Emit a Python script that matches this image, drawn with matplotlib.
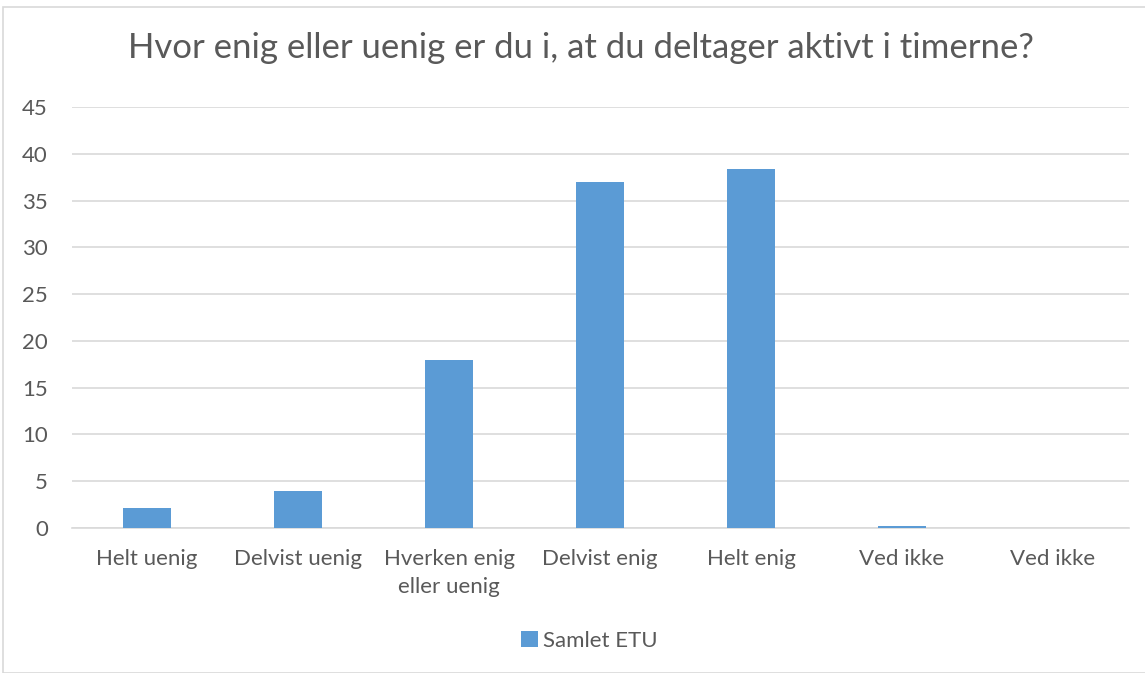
import matplotlib
matplotlib.use("Agg")
import matplotlib.pyplot as plt
from matplotlib.patches import Rectangle
import numpy as np

categories = ["Helt uenig", "Delvist uenig", "Hverken enig\neller uenig", "Delvist enig",
              "Helt enig", "Ved ikke", "Ved ikke"]
values = [2.1, 4.0, 18.0, 37.0, 38.4, 0.2, 0.0]
series_name = "Samlet ETU"
y_ticks = list(range(0, 50, 5))

BAR_COLOR = "#5b9bd5"
TEXT_COLOR = "#595959"
GRID_COLOR = "#d9d9d9"

plt.rcParams["font.family"] = ["Lato", "DejaVu Sans"]

fig = plt.figure(figsize=(11.45, 6.73), dpi=100)
ax = fig.add_axes([71.5 / 1145, 1 - 528 / 673, (1128.5 - 71.5) / 1145, (528 - 107) / 673])

# chart border
fig.patches.append(Rectangle((3 / 1145, 0), 1.1, 1 - 7 / 673, transform=fig.transFigure,
                             fill=False, edgecolor=GRID_COLOR, linewidth=1.2))

x = np.arange(len(categories))
bars = ax.bar(x, values, width=0.32, color=BAR_COLOR, label=series_name, zorder=3)

ax.set_xlim(-0.5, len(categories) - 0.5)
ax.set_ylim(0, 45)
ax.set_yticks(y_ticks)
ax.set_xticks(x)
ax.set_xticklabels(categories, linespacing=1.5)
ax.yaxis.grid(True, color=GRID_COLOR, linewidth=1.2, zorder=0)
for s in ["top", "right", "left"]:
    ax.spines[s].set_visible(False)
ax.spines["bottom"].set_color(GRID_COLOR)
ax.spines["bottom"].set_linewidth(1.2)
ax.tick_params(axis="both", length=0, labelsize=16, colors=TEXT_COLOR)
ax.tick_params(axis="x", pad=15)
ax.tick_params(axis="y", pad=17)

fig.text(0.507, 1 - 48 / 673, "Hvor enig eller uenig er du i, at du deltager aktivt i timerne?",
         ha="center", va="center", fontsize=25, color=TEXT_COLOR)

fig.legend(handles=[bars], labels=[series_name], loc="center", bbox_to_anchor=(0.515, 1 - 641 / 673),
           frameon=False, fontsize=16, labelcolor=TEXT_COLOR, handlelength=0.75, handleheight=0.75,
           handletextpad=0.25)

fig.savefig("out.png", dpi=100)
